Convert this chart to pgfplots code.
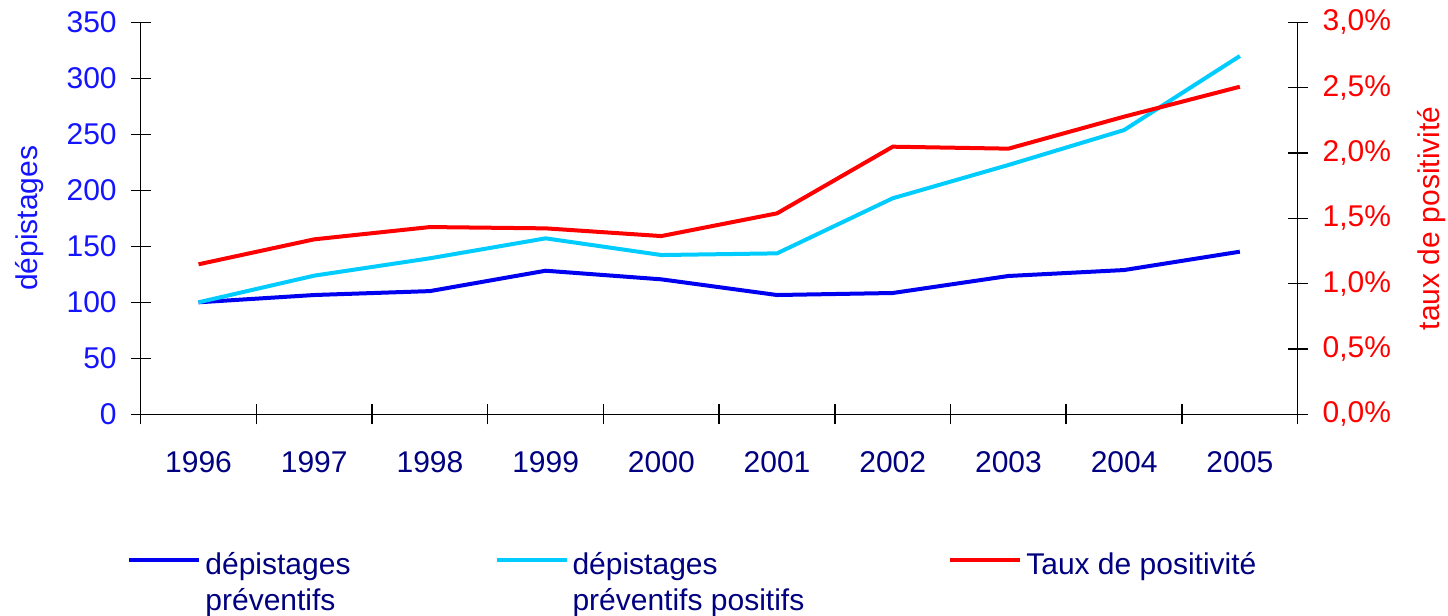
\documentclass[border=0pt]{standalone}
\usepackage{pgfplots}
\pgfplotsset{compat=1.18}
\usepackage{fontspec}
\setmainfont{Liberation Sans}
\definecolor{dblue}{RGB}{0,0,240}
\definecolor{lblue}{RGB}{0,204,255}
\definecolor{navy}{RGB}{0,0,128}
\definecolor{pred}{RGB}{255,0,0}
\definecolor{lblbl}{RGB}{20,20,255}

\pgfplotsset{
  base/.style={
    scale only axis, width=578.5pt, height=196pt,
    xmin=1995.5, xmax=2005.5, ymin=0,
    axis line style={black, line width=0.7pt},
    tick style={black, line width=0.7pt},
    tick align=center, major tick length=10pt,
    /pgf/number format/assume math mode=true,
    font=\fontsize{15}{18.3}\selectfont,
    clip=false,
  }
}

\begin{document}
\begin{tikzpicture}
\begin{axis}[base,
  ymax=350, ytick distance=50,
  axis y line*=left, axis x line*=bottom,
  xtick={1995.5,1996.5,...,2005.5}, xticklabels={},
  extra x ticks={1996,1997,1998,1999,2000,2001,2002,2003,2004,2005},
  extra x tick labels={1996,1997,1998,1999,2000,2001,2002,2003,2004,2005},
  extra x tick style={major tick length=0pt,
    xticklabel style={text=navy, yshift=-15pt}},
  yticklabel style={text=lblbl, xshift=-3.5pt},
  ylabel={dépistages},
  every axis y label/.style={at={(axis description cs:-0.0959,0.5)}, rotate=90, anchor=center, text=lblbl},
  legend style={draw=none, fill=none, at={(axis description cs:-0.017,-0.329)},
    anchor=north west, legend columns=3, text=navy,
    font=\fontsize{15}{18.3}\selectfont,
    cells={align=left, anchor=north west},
    /tikz/every even column/.append style={column sep=70pt}},
  legend image code/.code={\path[draw=none] (0pt,0pt) -- (35pt,0pt);
    \draw[#1] (0pt,-6pt) -- (35pt,-6pt);},
]
\addplot[dblue, line width=2pt] coordinates {
  (1996,100) (1997,106.5) (1998,110) (1999,128.2) (2000,120.5)
  (2001,106.5) (2002,108.3) (2003,123.5) (2004,128.8) (2005,145.2)};
\addplot[lblue, line width=2pt] coordinates {
  (1996,100) (1997,123.8) (1998,139.3) (1999,157.1) (2000,142.2)
  (2001,143.7) (2002,192.9) (2003,222.6) (2004,253.8) (2005,319.9)};
\addlegendimage{pred, line width=2pt}
\legend{dépistages\\préventifs, dépistages\\préventifs positifs, Taux de positivité}
\end{axis}
\begin{axis}[base,
  ymax=3, ytick={0,0.5,1,1.5,2,2.5,3},
  yticklabels={{0,0\%},{0,5\%},{1,0\%},{1,5\%},{2,0\%},{2,5\%},{3,0\%}},
  axis y line*=right, axis x line=none,
  yticklabel style={text=pred, xshift=4pt},
  ylabel={taux de positivité},
  every axis y label/.style={at={(axis description cs:1.1158,0.5)}, rotate=90, anchor=center, text=pred},
]
\addplot[pred, line width=2pt] coordinates {
  (1996,1.148) (1997,1.339) (1998,1.433) (1999,1.423) (2000,1.364)
  (2001,1.538) (2002,2.048) (2003,2.033) (2004,2.278) (2005,2.507)};
\end{axis}
\pgfresetboundingbox
\path[use as bounding box] (-70.35pt,-100.85pt) rectangle (653.65pt,207.15pt);
\end{tikzpicture}
\end{document}
